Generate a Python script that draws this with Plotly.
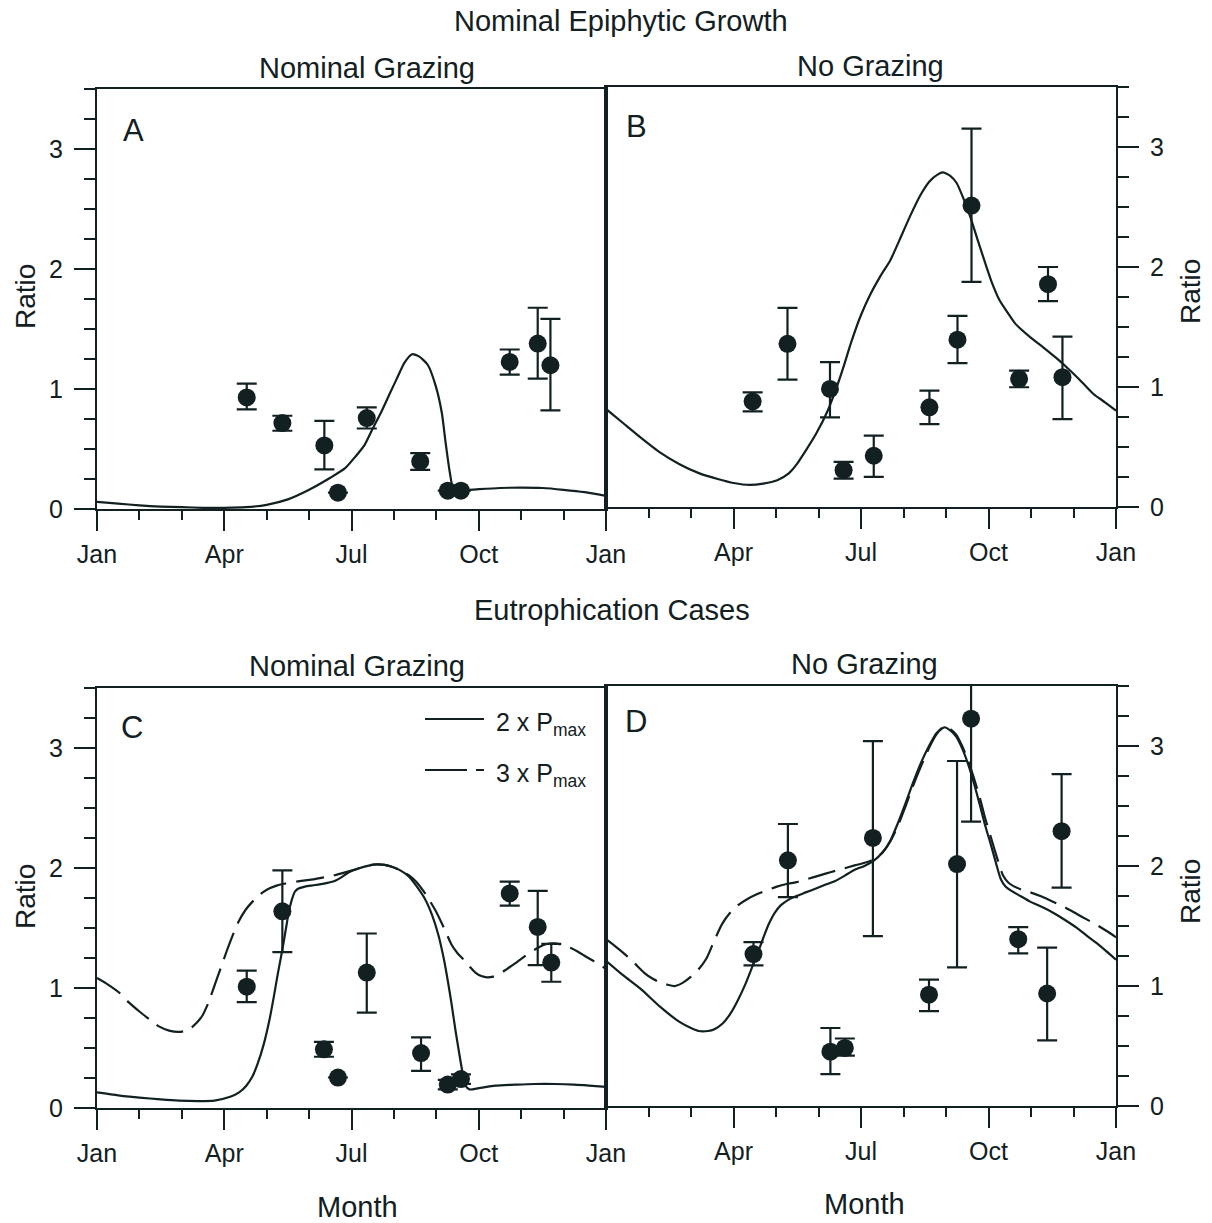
import plotly.graph_objects as go

INK = "#122022"
FONT = "Liberation Sans, Arial, sans-serif"

# ---------------- Panel A : Nominal epiphytic growth, nominal grazing -------------
a_obs_month = [3.53, 4.37, 5.36, 5.68, 6.36, 7.62, 8.27, 8.58, 9.73, 10.39, 10.69]
a_obs_ratio = [0.93, 0.716, 0.53, 0.136, 0.758, 0.396, 0.153, 0.153, 1.226, 1.379, 1.198]
a_obs_upper = [1.045, 0.777, 0.735, 0.136, 0.847, 0.465, 0.153, 0.153, 1.329, 1.677, 1.585]
a_obs_lower = [0.83, 0.652, 0.33, 0.136, 0.671, 0.326, 0.153, 0.153, 1.12, 1.086, 0.822]
a_mod_month = [0, 0.5, 1, 1.5, 2, 2.5, 3, 3.5, 4, 4.5, 5, 5.5, 5.85, 6.1, 6.31, 6.5, 6.69,
               6.9, 7.06, 7.25, 7.43, 7.6, 7.8, 7.99, 8.13, 8.22, 8.32, 8.41, 8.6, 9, 9.5,
               10, 10.5, 11, 11.5, 12]
a_mod_ratio = [0.06, 0.045, 0.03, 0.02, 0.015, 0.01, 0.01, 0.015, 0.035, 0.08, 0.16, 0.26,
               0.34, 0.44, 0.535, 0.67, 0.8, 0.96, 1.08, 1.22, 1.29, 1.27, 1.2, 1.02, 0.8,
               0.55, 0.3, 0.16, 0.155, 0.165, 0.175, 0.178, 0.175, 0.16, 0.14, 0.11]

# ---------------- Panel B : Nominal epiphytic growth, no grazing -------------------
b_obs_month = [3.45, 4.27, 5.27, 5.59, 6.3, 7.61, 8.27, 8.6, 9.72, 10.4, 10.74]
b_obs_ratio = [0.88, 1.36, 0.984, 0.307, 0.427, 0.831, 1.394, 2.512, 1.068, 1.857, 1.082]
b_obs_upper = [0.956, 1.66, 1.207, 0.376, 0.594, 0.97, 1.592, 3.153, 1.137, 2.0, 1.42]
b_obs_lower = [0.797, 1.062, 0.747, 0.237, 0.251, 0.691, 1.199, 1.876, 0.998, 1.715, 0.733]
b_mod_month = [0, 0.4, 0.81, 1.25, 1.73, 2.2, 2.65, 3.0, 3.38, 3.7, 4.03, 4.3, 4.49, 4.7,
               4.94, 5.2, 5.4, 5.6, 5.77, 6.0, 6.23, 6.45, 6.69, 6.9, 7.15, 7.4, 7.61, 7.8,
               7.93, 8.1, 8.25, 8.4, 8.57, 8.75, 8.9, 9.08, 9.26, 9.45, 9.63, 10.0, 10.28,
               10.6, 10.92, 11.2, 11.47, 11.75, 12]
b_mod_ratio = [0.817, 0.7, 0.58, 0.46, 0.357, 0.28, 0.231, 0.2, 0.184, 0.195, 0.223, 0.28,
               0.357, 0.47, 0.608, 0.79, 0.97, 1.18, 1.374, 1.6, 1.779, 1.92, 2.057, 2.22,
               2.42, 2.6, 2.713, 2.77, 2.788, 2.76, 2.7, 2.58, 2.42, 2.22, 2.057, 1.87,
               1.723, 1.62, 1.528, 1.41, 1.333, 1.24, 1.137, 1.04, 0.942, 0.87, 0.803]

# ---------------- Panel C : Eutrophication, nominal grazing ------------------------
c_obs_month = [3.53, 4.37, 5.35, 5.68, 6.36, 7.64, 8.27, 8.58, 9.73, 10.39, 10.71]
c_obs_ratio = [1.011, 1.639, 0.489, 0.254, 1.129, 0.458, 0.195, 0.241, 1.788, 1.509, 1.212]
c_obs_upper = [1.144, 1.98, 0.551, 0.254, 1.454, 0.588, 0.235, 0.281, 1.887, 1.81, 1.367]
c_obs_lower = [0.882, 1.299, 0.427, 0.254, 0.795, 0.309, 0.155, 0.201, 1.686, 1.191, 1.052]
c_2x_month = [0, 0.5, 1, 1.5, 1.93, 2.4, 2.77, 3.14, 3.35, 3.52, 3.66, 3.79, 3.93, 4.07,
              4.17, 4.26, 4.36, 4.45, 4.52, 4.59, 4.66, 4.73, 4.9, 5.1, 5.35, 5.57, 5.75,
              5.94, 6.2, 6.41, 6.6, 6.78, 6.95, 7.15, 7.35, 7.52, 7.72, 7.9, 8.05, 8.18,
              8.27, 8.36, 8.45, 8.55, 8.63, 8.69, 8.78, 9.0, 9.39, 9.9, 10.32, 10.8,
              11.25, 11.6, 12]
c_2x_ratio = [0.13, 0.105, 0.087, 0.072, 0.062, 0.058, 0.062, 0.093, 0.13, 0.186, 0.26,
              0.371, 0.53, 0.742, 0.93, 1.114, 1.3, 1.485, 1.63, 1.732, 1.8, 1.825, 1.845,
              1.856, 1.87, 1.887, 1.92, 1.964, 2.0, 2.02, 2.03, 2.026, 2.01, 1.98, 1.93,
              1.856, 1.75, 1.608, 1.44, 1.237, 1.06, 0.866, 0.65, 0.433, 0.27, 0.186,
              0.155, 0.165, 0.186, 0.195, 0.2, 0.2, 0.195, 0.187, 0.176]
c_3x_month = [0, 0.25, 0.53, 0.75, 1.0, 1.25, 1.46, 1.7, 1.93, 2.1, 2.21, 2.35, 2.49, 2.63,
              2.77, 2.91, 3.05, 3.19, 3.33, 3.5, 3.7, 3.9, 4.07, 4.25, 4.45, 4.82, 5.1,
              5.38, 5.6, 5.85, 6.1, 6.41, 6.6, 6.78, 6.95, 7.15, 7.35, 7.52, 7.75, 7.99,
              8.18, 8.36, 8.5, 8.64, 8.78, 8.92, 9.06, 9.2, 9.34, 9.48, 9.67, 9.86, 10.05,
              10.23, 10.42, 10.6, 10.78, 10.97, 11.16, 11.35, 11.53, 11.72, 11.86, 12]
c_3x_ratio = [1.083, 1.03, 0.959, 0.88, 0.804, 0.735, 0.68, 0.645, 0.634, 0.645, 0.665,
              0.71, 0.773, 0.88, 1.02, 1.16, 1.3, 1.43, 1.547, 1.65, 1.732, 1.795, 1.831,
              1.855, 1.871, 1.893, 1.905, 1.924, 1.94, 1.964, 1.99, 2.023, 2.03, 2.026,
              2.01, 1.98, 1.94, 1.887, 1.78, 1.639, 1.5, 1.361, 1.29, 1.237, 1.18, 1.129,
              1.1, 1.089, 1.095, 1.114, 1.16, 1.206, 1.255, 1.3, 1.34, 1.367, 1.372,
              1.361, 1.335, 1.3, 1.26, 1.222, 1.19, 1.16]

# ---------------- Panel D : Eutrophication, no grazing -----------------------------
d_obs_month = [3.47, 4.28, 5.28, 5.62, 6.28, 7.6, 8.26, 8.59, 9.7, 10.38, 10.72]
d_obs_ratio = [1.266, 2.047, 0.453, 0.484, 2.234, 0.928, 2.016, 3.228, 1.39, 0.9375, 2.29]
d_obs_upper = [1.366, 2.35, 0.65, 0.5625, 3.04, 1.053, 2.875, 3.7, 1.49, 1.32, 2.766]
d_obs_lower = [1.172, 1.74, 0.266, 0.42, 1.416, 0.79, 1.156, 2.369, 1.272, 0.547, 1.82]
d_2x_month = [0, 0.4, 0.81, 1.27, 1.72, 2.0, 2.18, 2.4, 2.55, 2.75, 2.92, 3.1, 3.28, 3.42,
              3.56, 3.7, 3.83, 3.97, 4.11, 4.3, 4.48, 4.7, 4.94, 5.17, 5.39, 5.62, 5.85,
              6.08, 6.31, 6.5, 6.68, 6.86, 7.04, 7.22, 7.41, 7.6, 7.78, 7.96, 8.1, 8.24,
              8.38, 8.51, 8.65, 8.79, 8.92, 9.06, 9.18, 9.29, 9.4, 9.52, 9.75, 9.98, 10.25,
              10.53, 10.8, 11.08, 11.31, 11.54, 11.77, 12]
d_2x_ratio = [1.21, 1.09, 0.978, 0.828, 0.703, 0.65, 0.625, 0.625, 0.64, 0.69, 0.766, 0.88,
              1.016, 1.14, 1.266, 1.4, 1.516, 1.61, 1.672, 1.72, 1.75, 1.78, 1.813, 1.845,
              1.875, 1.92, 1.969, 2.0, 2.047, 2.11, 2.203, 2.35, 2.516, 2.69, 2.859, 3.0,
              3.109, 3.156, 3.13, 3.078, 2.98, 2.859, 2.7, 2.516, 2.34, 2.172, 2.02, 1.89,
              1.83, 1.797, 1.75, 1.703, 1.66, 1.609, 1.55, 1.484, 1.42, 1.359, 1.29, 1.219]
d_3x_month = [0, 0.22, 0.44, 0.67, 0.9, 1.1, 1.27, 1.45, 1.63, 1.82, 2.0, 2.18, 2.37, 2.55,
              2.73, 2.92, 3.1, 3.33, 3.56, 3.8, 4.02, 4.25, 4.48, 4.75, 5.03, 5.3, 5.58,
              5.85, 6.13, 6.32, 6.5, 6.68, 6.86, 7.05, 7.23, 7.41, 7.6, 7.78, 7.96, 8.1,
              8.24, 8.38, 8.51, 8.65, 8.79, 8.92, 9.06, 9.2, 9.34, 9.47, 9.61, 9.8, 9.98,
              10.25, 10.53, 10.8, 11.08, 11.31, 11.54, 11.77, 12]
d_3x_ratio = [1.39, 1.33, 1.266, 1.19, 1.11, 1.06, 1.031, 1.01, 1.0, 1.03, 1.078, 1.14,
              1.234, 1.38, 1.516, 1.61, 1.672, 1.725, 1.766, 1.8, 1.828, 1.85, 1.866, 1.893,
              1.922, 1.95, 1.978, 2.005, 2.031, 2.06, 2.11, 2.2, 2.328, 2.5, 2.672, 2.83,
              2.984, 3.1, 3.166, 3.14, 3.094, 3.0, 2.89, 2.74, 2.578, 2.4, 2.234, 2.07,
              1.922, 1.86, 1.828, 1.8, 1.781, 1.745, 1.7, 1.655, 1.6, 1.555, 1.51, 1.46,
              1.406]

month_ticks_left = [0, 3, 6, 9, 12]
month_labels_left = ["Jan", "Apr", "Jul", "Oct", "Jan"]
month_ticks_right = [3, 6, 9, 12]
month_labels_right = ["Apr", "Jul", "Oct", "Jan"]
ratio_ticks = [0, 1, 2, 3]

W, H = 1212, 1223


def px_x(x):
    return x / W


def px_y(y):
    return (H - y) / H


fig = go.Figure()


def add_obs(months, vals, up, lo, xa, ya):
    fig.add_trace(go.Scatter(
        x=months, y=vals, mode="markers", xaxis=xa, yaxis=ya, showlegend=False,
        marker=dict(size=18, color=INK, line=dict(width=0)),
        error_y=dict(type="data", symmetric=False,
                     array=[u - v for u, v in zip(up, vals)],
                     arrayminus=[v - l for v, l in zip(vals, lo)],
                     width=10, thickness=2.2, color=INK),
        cliponaxis=True))


def add_model(months, vals, xa, ya, dash="solid"):
    fig.add_trace(go.Scatter(
        x=months, y=vals, mode="lines", xaxis=xa, yaxis=ya, showlegend=False,
        line=dict(color=INK, width=2.2, dash=dash, shape="spline", smoothing=0.6)))


DASH = "28px,10px"

add_model(a_mod_month, a_mod_ratio, "x", "y")
add_obs(a_obs_month, a_obs_ratio, a_obs_upper, a_obs_lower, "x", "y")
add_model(b_mod_month, b_mod_ratio, "x2", "y2")
add_obs(b_obs_month, b_obs_ratio, b_obs_upper, b_obs_lower, "x2", "y2")
add_model(c_3x_month, c_3x_ratio, "x3", "y3", DASH)
add_model(c_2x_month, c_2x_ratio, "x3", "y3")
add_obs(c_obs_month, c_obs_ratio, c_obs_upper, c_obs_lower, "x3", "y3")
add_model(d_3x_month, d_3x_ratio, "x4", "y4", DASH)
add_model(d_2x_month, d_2x_ratio, "x4", "y4")
add_obs(d_obs_month, d_obs_ratio, d_obs_upper, d_obs_lower, "x4", "y4")

tickfont = dict(family=FONT, size=25, color=INK)


def xaxis(domain, vals, labels, anchor):
    return dict(domain=domain, anchor=anchor, range=[0, 12], tickmode="array",
                tickvals=vals, ticktext=labels, ticks="outside", ticklen=20,
                tickwidth=2, tickcolor=INK, showline=True, linewidth=2, linecolor=INK,
                mirror=True, showgrid=False, zeroline=False, tickfont=tickfont,
                ticklabelstandoff=2, automargin=False,
                minor=dict(dtick=1, tick0=0, ticks="outside", ticklen=9, tickwidth=2,
                           tickcolor=INK, showgrid=False))


def yaxis(domain, side, anchor):
    return dict(domain=domain, anchor=anchor, side=side, range=[0, 3.5], tickmode="array",
                tickvals=ratio_ticks, ticks="outside", ticklen=21, tickwidth=2,
                tickcolor=INK, showline=True, linewidth=2, linecolor=INK, mirror=True,
                showgrid=False, zeroline=False, tickfont=tickfont, ticklabelstandoff=6,
                automargin=False,
                minor=dict(dtick=0.25, tick0=0, ticks="outside", ticklen=11, tickwidth=2,
                           tickcolor=INK, showgrid=False))


xl = [px_x(97), px_x(606)]
xr = [px_x(606), px_x(1116)]

fig.update_layout(
    width=W, height=H,
    margin=dict(l=0, r=0, t=0, b=0, pad=0, autoexpand=False),
    paper_bgcolor="white", plot_bgcolor="white", showlegend=False,
    font=dict(family=FONT, color=INK),
    xaxis=xaxis(xl, month_ticks_left, month_labels_left, "y"),
    yaxis=yaxis([px_y(509), px_y(89)], "left", "x"),
    xaxis2=xaxis(xr, month_ticks_right, month_labels_right, "y2"),
    yaxis2=yaxis([px_y(507), px_y(87)], "right", "x2"),
    xaxis3=xaxis(xl, month_ticks_left, month_labels_left, "y3"),
    yaxis3=yaxis([px_y(1108), px_y(688)], "left", "x3"),
    xaxis4=xaxis(xr, month_ticks_right, month_labels_right, "y4"),
    yaxis4=yaxis([px_y(1106), px_y(686)], "right", "x4"),
)


def text(x, y, s, size, angle=0):
    fig.add_annotation(x=px_x(x), y=px_y(y), xref="paper", yref="paper", text=s,
                       showarrow=False, textangle=angle, xanchor="center", yanchor="middle",
                       font=dict(family=FONT, size=size, color=INK))


text(621, 21, "Nominal Epiphytic Growth", 29)
text(367, 68, "Nominal Grazing", 29)
text(870, 66, "No Grazing", 29)
text(612, 610, "Eutrophication Cases", 29)
text(357, 666, "Nominal Grazing", 29)
text(864, 664, "No Grazing", 29)
text(357, 1207, "Month", 29)
text(864, 1204, "Month", 29)
text(25, 297, "Ratio", 28, -90)
text(25, 897, "Ratio", 28, -90)
text(1190, 292, "Ratio", 28, -90)
text(1190, 892, "Ratio", 28, -90)
text(133, 131, "A", 31)
text(636, 126, "B", 31)
text(132, 727, "C", 31)
text(636, 722, "D", 31)

# legend for panel C
fig.add_shape(type="line", xref="paper", yref="paper", x0=px_x(425), x1=px_x(484),
              y0=px_y(719), y1=px_y(719), line=dict(color=INK, width=2))
fig.add_shape(type="line", xref="paper", yref="paper", x0=px_x(425), x1=px_x(484),
              y0=px_y(770), y1=px_y(770), line=dict(color=INK, width=2, dash="42px,9px"))
fig.add_annotation(x=px_x(494), y=px_y(724), xref="paper", yref="paper",
                   text="2 x P<sub>max</sub>", showarrow=False, xanchor="left",
                   yanchor="middle", font=dict(family=FONT, size=25, color=INK))
fig.add_annotation(x=px_x(494), y=px_y(775), xref="paper", yref="paper",
                   text="3 x P<sub>max</sub>", showarrow=False, xanchor="left",
                   yanchor="middle", font=dict(family=FONT, size=25, color=INK))

fig.write_html("out.html")
